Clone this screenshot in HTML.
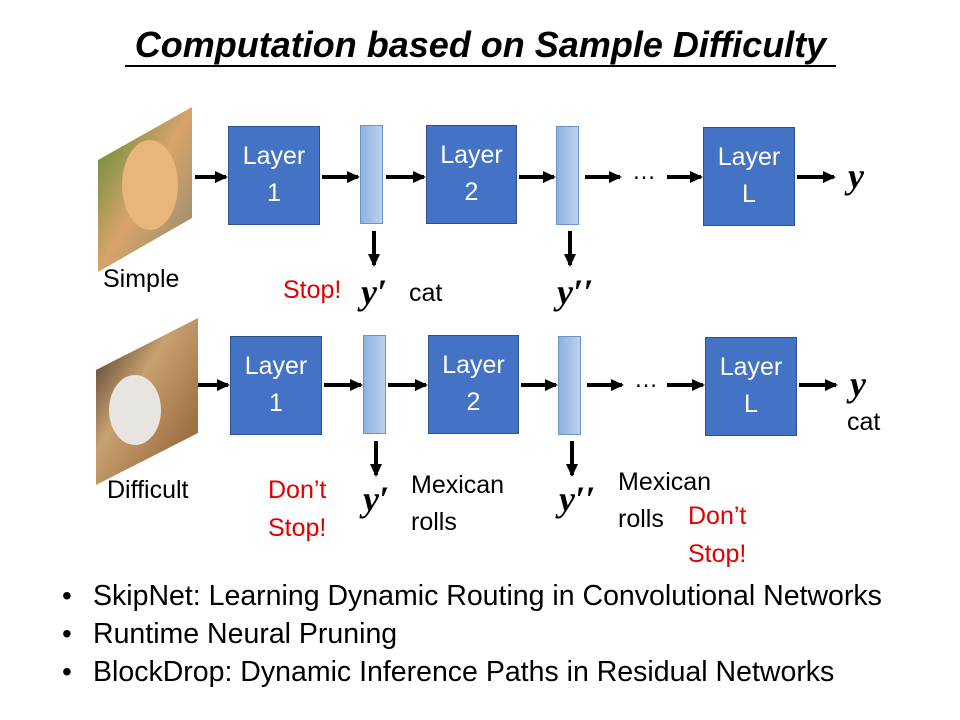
<!DOCTYPE html>
<html><head><style>
body{margin:0;width:960px;height:720px;background:#fff;position:relative;overflow:hidden;font-family:"Liberation Sans",sans-serif}
.t{position:absolute;white-space:nowrap;line-height:1}
.box{position:absolute;background:#4472c4;border:1px solid #2f528f;color:#fff;font-size:25px;text-align:center;line-height:37px;box-sizing:border-box;padding-top:11px}
.bar{position:absolute;width:23px;height:99px;background:linear-gradient(90deg,#8fb2e0,#bcd2ee);border:1px solid #6a93cc;box-sizing:border-box}
.y{font-family:"Liberation Serif",serif;font-weight:bold;font-style:italic;font-size:36px}
.red{color:#e00000}
.l{font-size:25px}
</style></head><body>
<div class="t" style="left:125px;top:27px;width:711px;text-align:center;font-size:36px;font-weight:bold;font-style:italic;border-bottom:2px solid #000;padding-bottom:2px">Computation based on Sample Difficulty</div>

<svg width="960" height="720" style="position:absolute;left:0;top:0">
<defs>
<marker id="a" markerWidth="14" markerHeight="14" refX="11" refY="7" orient="auto" markerUnits="userSpaceOnUse"><path d="M0,1 L13,7 L0,13 z" fill="#000"/></marker>
<linearGradient id="g1" x1="0" y1="0" x2="1" y2="1"><stop offset="0" stop-color="#4e8a2e"/><stop offset=".5" stop-color="#d9a36a"/><stop offset="1" stop-color="#8a8a70"/></linearGradient>
<linearGradient id="g2" x1="0" y1="0" x2="1" y2="1"><stop offset="0" stop-color="#3a2a20"/><stop offset=".4" stop-color="#c9a070"/><stop offset="1" stop-color="#8a5a30"/></linearGradient>
</defs>
<polygon points="98,160 192,107 192,218 98,272" fill="url(#g1)"/>
<ellipse cx="150" cy="185" rx="28" ry="45" fill="#e8b678"/>
<polygon points="96,370 198,318 198,433 96,485" fill="url(#g2)"/>
<ellipse cx="135" cy="410" rx="26" ry="35" fill="#e8e4e0"/>
<g stroke="#000" stroke-width="4" marker-end="url(#a)">
<line x1="195" y1="177" x2="226" y2="177"/><line x1="322" y1="177" x2="358" y2="177"/>
<line x1="386" y1="177" x2="424" y2="177"/><line x1="519" y1="177" x2="554" y2="177"/>
<line x1="585" y1="177" x2="620" y2="177"/><line x1="667" y1="177" x2="701" y2="177"/>
<line x1="797" y1="177" x2="834" y2="177"/>
<line x1="374" y1="231" x2="374" y2="265"/><line x1="570" y1="231" x2="570" y2="265"/>
<line x1="198" y1="385" x2="228" y2="385"/><line x1="324" y1="385" x2="361" y2="385"/>
<line x1="388" y1="385" x2="426" y2="385"/><line x1="521" y1="385" x2="556" y2="385"/>
<line x1="587" y1="385" x2="622" y2="385"/><line x1="667" y1="385" x2="703" y2="385"/>
<line x1="799" y1="385" x2="836" y2="385"/>
<line x1="376" y1="441" x2="376" y2="475"/><line x1="572" y1="441" x2="572" y2="475"/>
</g>
<circle cx="775" cy="386" r="4" fill="none" stroke="#e00" stroke-width="2.5"/>
</svg>

<div class="box" style="left:228px;top:126px;width:92px;height:99px">Layer<br>1</div>
<div class="bar" style="left:360px;top:125px"></div>
<div class="box" style="left:426px;top:125px;width:91px;height:99px">Layer<br>2</div>
<div class="bar" style="left:556px;top:126px"></div>
<div class="t" style="left:632px;top:160px;font-size:24px">…</div>
<div class="box" style="left:703px;top:127px;width:92px;height:99px">Layer<br>L</div>
<div class="t y" style="left:848px;top:158px">y</div>

<div class="box" style="left:230px;top:336px;width:92px;height:99px">Layer<br>1</div>
<div class="bar" style="left:363px;top:335px"></div>
<div class="box" style="left:428px;top:335px;width:91px;height:99px">Layer<br>2</div>
<div class="bar" style="left:558px;top:336px"></div>
<div class="t" style="left:634px;top:368px;font-size:24px">…</div>
<div class="box" style="left:705px;top:337px;width:92px;height:99px">Layer<br>L</div>
<div class="t y" style="left:850px;top:366px">y</div>
<div class="t l" style="left:847px;top:410px">cat</div>

<div class="t l" style="left:103px;top:267px">Simple</div>
<div class="t red l" style="left:283px;top:278px">Stop!</div>
<div class="t y" style="left:361px;top:274px">y′</div>
<div class="t l" style="left:409px;top:281px">cat</div>
<div class="t y" style="left:557px;top:274px">y′′</div>

<div class="t l" style="left:107px;top:478px">Difficult</div>
<div class="t red l" style="left:268px;top:471px;line-height:38px">Don’t<br>Stop!</div>
<div class="t y" style="left:363px;top:481px">y′</div>
<div class="t l" style="left:411px;top:467px;line-height:37px">Mexican<br>rolls</div>
<div class="t y" style="left:559px;top:481px">y′′</div>
<div class="t l" style="left:618px;top:464px;line-height:37px">Mexican<br>rolls</div>
<div class="t red l" style="left:688px;top:497px;line-height:38px">Don’t<br>Stop!</div>

<div class="t" style="left:62px;top:577px;font-size:28px;line-height:38px">•<br>•<br>•</div>
<div class="t" style="left:93px;top:577px;font-size:28.5px;line-height:38px">SkipNet: Learning Dynamic Routing in Convolutional Networks<br>Runtime Neural Pruning<br>BlockDrop: Dynamic Inference Paths in Residual Networks</div>
</body></html>
